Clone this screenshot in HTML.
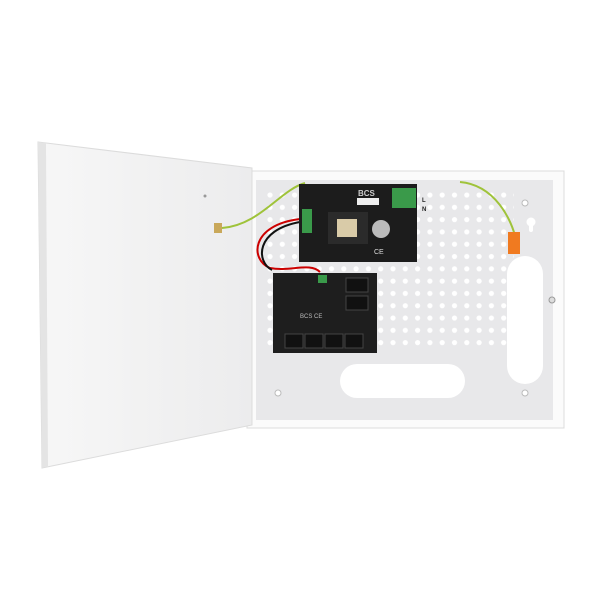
<!DOCTYPE html>
<html><head><style>body{margin:0;background:#fff}svg{display:block}</style></head><body>
<svg width="600" height="600" viewBox="0 0 600 600" xmlns="http://www.w3.org/2000/svg">
<defs>
<linearGradient id="door" x1="0" x2="1"><stop offset="0" stop-color="#f7f7f7"/><stop offset="1" stop-color="#ececed"/></linearGradient>
<pattern id="holes" x="264" y="189" width="12.3" height="12.3" patternUnits="userSpaceOnUse"><circle cx="6" cy="6" r="2.6" fill="#fff"/></pattern>
</defs>
<rect width="600" height="600" fill="#fff"/>
<rect x="247" y="171" width="317" height="257" fill="#fbfbfb" stroke="#dcdcdc"/>
<rect x="256" y="180" width="297" height="240" fill="#e8e8ea"/>
<rect x="264" y="189" width="250" height="160" fill="url(#holes)"/>
<rect x="507" y="256" width="36" height="128" rx="18" fill="#fff"/>
<rect x="340" y="364" width="125" height="34" rx="17" fill="#fff"/>
<circle cx="278" cy="393" r="3" fill="#fff" stroke="#bbb"/>
<circle cx="525" cy="393" r="3" fill="#fff" stroke="#bbb"/>
<circle cx="525" cy="203" r="3" fill="#fff" stroke="#bbb"/>
<circle cx="531" cy="222" r="4.5" fill="#fff"/>
<rect x="529" y="222" width="4" height="10" rx="2" fill="#fff"/>
<circle cx="552" cy="300" r="3" fill="#ddd" stroke="#999"/>
<polygon points="38,142 252,168 252,425 42,468" fill="url(#door)" stroke="#dcdcdc"/>
<polygon points="38,142 46,143 48,466 42,468" fill="#e4e4e4"/>
<rect x="214" y="223" width="8" height="10" fill="#c9a85a"/>
<circle cx="205" cy="196" r="1.5" fill="#999"/>
<path d="M222 228 C260 225 280 190 305 183" stroke="#9fc33a" stroke-width="2" fill="none"/>
<path d="M460 182 C495 185 512 220 516 240" stroke="#9fc33a" stroke-width="2" fill="none"/>
<path d="M300 219 C250 225 250 260 270 268 C290 272 310 262 320 272" stroke="#c00" stroke-width="2" fill="none"/>
<path d="M300 222 C255 230 256 262 272 270" stroke="#111" stroke-width="2" fill="none"/>
<rect x="508" y="232" width="12" height="22" fill="#f07a20"/>
<rect x="299" y="184" width="118" height="78" fill="#1c1c1c"/>
<rect x="302" y="209" width="10" height="24" fill="#3a9a4a"/>
<rect x="392" y="188" width="24" height="20" fill="#3a9a4a"/>
<rect x="328" y="212" width="40" height="32" fill="#2b2b2b"/>
<rect x="337" y="219" width="20" height="18" fill="#d9cba8"/>
<circle cx="381" cy="229" r="9" fill="#bbb"/>
<rect x="357" y="198" width="22" height="7" fill="#eee"/>
<text x="358" y="196" font-family="Liberation Sans,sans-serif" font-size="8" fill="#ccc" font-weight="bold">BCS</text>
<text x="374" y="254" font-family="Liberation Sans,sans-serif" font-size="7" fill="#ddd">CE</text>
<text x="422" y="202" font-family="Liberation Sans,sans-serif" font-size="6" font-weight="bold" fill="#222">L</text>
<text x="422" y="211" font-family="Liberation Sans,sans-serif" font-size="6" font-weight="bold" fill="#222">N</text>
<rect x="273" y="273" width="104" height="80" fill="#1e1e1e"/>
<rect x="318" y="275" width="9" height="8" fill="#3a9a4a"/>
<rect x="346" y="278" width="22" height="14" fill="#111" stroke="#444"/>
<rect x="346" y="296" width="22" height="14" fill="#111" stroke="#444"/>
<rect x="285" y="334" width="18" height="14" fill="#111" stroke="#444"/>
<rect x="305" y="334" width="18" height="14" fill="#111" stroke="#444"/>
<rect x="325" y="334" width="18" height="14" fill="#111" stroke="#444"/>
<rect x="345" y="334" width="18" height="14" fill="#111" stroke="#444"/>
<text x="300" y="318" font-family="Liberation Sans,sans-serif" font-size="6" fill="#bbb">BCS CE</text>
</svg>
</body></html>
